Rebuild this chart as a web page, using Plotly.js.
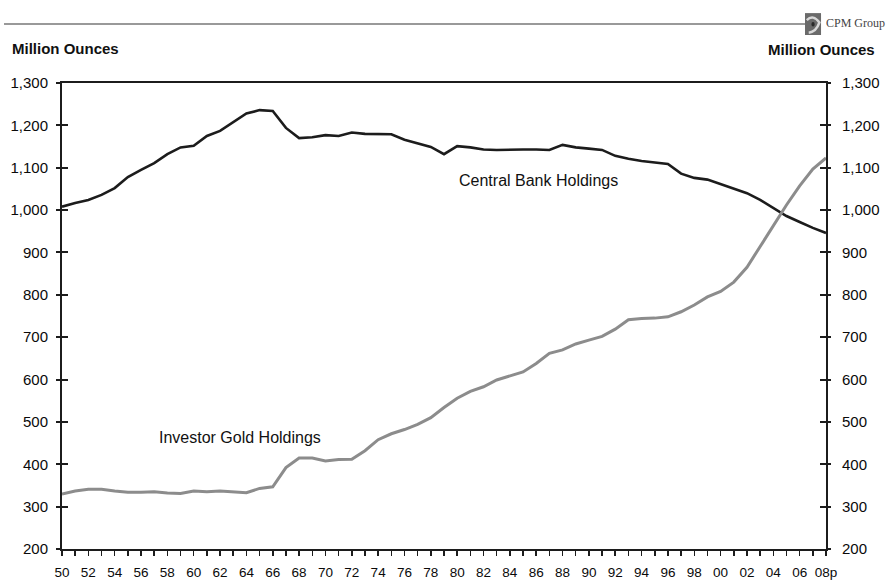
<!DOCTYPE html>
<html>
<head>
<meta charset="utf-8">
<script src="https://cdn.plot.ly/plotly-3.0.1.min.js"></script>
<style>html,body{margin:0;padding:0;background:#fff;}#chart{width:887px;height:580px;}</style>
</head>
<body>
<div id="chart"></div>
<script>
const years = [];
for (let y = 1950; y <= 2008; y++) years.push(y);

const centralBank = [1008,1017,1024,1036,1052,1078,1095,1111,1132,1148,1152,1175,1187,1208,1228,1236,1234,1194,1170,1172,
  1177,1175,1183,1180,1179,1179,1166,1157,1149,1132,1151,1148,1143,1142,1143,1143,1143,1142,1154,1148,
  1145,1142,1128,1121,1116,1112,1109,1086,1076,1072,1061,1050,1040,1024,1005,986,972,958,946];

const investorGold = [330,337,341,341,337,334,334,335,332,331,337,335,337,335,333,343,347,392,415,415,
  408,411,412,432,458,472,482,494,510,534,556,572,583,599,608,618,638,662,670,684,
  693,702,719,741,744,745,748,760,776,795,808,830,865,915,965,1012,1057,1097,1123];

const tickYears = years;
const tickLabels = years.map(y => (y % 2 === 0 ? (y === 2008 ? '08p' : String(y % 100).padStart(2, '0')) : ''));
const yTicks = [200,300,400,500,600,700,800,900,1000,1100,1200,1300];
const yTickText = ['200','300','400','500','600','700','800','900','1,000','1,100','1,200','1,300'];

const labelCentral = 'Central Bank Holdings';
const labelInvestor = 'Investor Gold Holdings';
const unitText = 'Million Ounces';
const brandText = 'CPM Group';

const FONT = 'Arial, "Liberation Sans", Helvetica, sans-serif';
const yTickFont = {family: FONT, size: 15, color: '#0a0a0a'};
const xTickFont = {family: FONT, size: 13.5, color: '#0a0a0a'};

const traces = [
  {x: years, y: centralBank, type: 'scatter', mode: 'lines',
   line: {color: '#1c1c1c', width: 2.6}, hoverinfo: 'skip', showlegend: false},
  {x: years, y: investorGold, type: 'scatter', mode: 'lines',
   line: {color: '#8c8c8c', width: 3}, hoverinfo: 'skip', showlegend: false},
  {x: [years[0]], y: [centralBank[0]], yaxis: 'y2', type: 'scatter', mode: 'lines',
   line: {width: 0}, opacity: 0, hoverinfo: 'skip', showlegend: false},
  {x: [years[0]], y: [centralBank[0]], yaxis: 'y3', type: 'scatter', mode: 'lines',
   line: {width: 0}, opacity: 0, hoverinfo: 'skip', showlegend: false},
  {x: [years[0]], y: [centralBank[0]], yaxis: 'y4', type: 'scatter', mode: 'lines',
   line: {width: 0}, opacity: 0, hoverinfo: 'skip', showlegend: false}
];

const yBase = {range: [200, 1300], tickvals: yTicks, ticktext: yTickText, showgrid: false,
  zeroline: false, linecolor: '#1c1c1c', linewidth: 2, tickcolor: '#1c1c1c', tickwidth: 2,
  tickfont: yTickFont, fixedrange: true};

const layout = {
  width: 887, height: 580,
  margin: {l: 62, r: 61, t: 83, b: 31, pad: 0},
  paper_bgcolor: '#fff', plot_bgcolor: '#fff',
  font: {family: FONT, color: '#111'},
  xaxis: {range: [1950, 2008], tickvals: tickYears, ticktext: tickLabels, ticks: 'outside',
    ticklen: 5, tickwidth: 1.5, tickcolor: '#1c1c1c', showline: true, linecolor: '#1c1c1c',
    linewidth: 2, mirror: true, showgrid: false, zeroline: false, tickfont: xTickFont,
    tickangle: 0, ticklabelstandoff: 5, fixedrange: true},
  yaxis: Object.assign({}, yBase, {side: 'left', showline: true, ticks: 'outside', ticklen: 4,
    ticklabelstandoff: 5}),
  yaxis2: Object.assign({}, yBase, {side: 'right', overlaying: 'y', showline: true,
    ticks: 'outside', ticklen: 3, ticklabelstandoff: 8}),
  yaxis3: Object.assign({}, yBase, {side: 'left', overlaying: 'y', showline: false,
    ticks: 'inside', ticklen: 6, showticklabels: false}),
  yaxis4: Object.assign({}, yBase, {side: 'right', overlaying: 'y', showline: false,
    ticks: 'inside', ticklen: 6, showticklabels: false}),
  shapes: [
    {type: 'line', xref: 'paper', yref: 'paper', x0: -0.0759, x1: 0.9725, y0: 1.1266, y1: 1.1266,
     line: {color: '#777', width: 1.5}},
    {type: 'rect', xref: 'paper', yref: 'paper', x0: 0.9725, x1: 0.9935, y0: 1.103, y1: 1.150,
     fillcolor: '#6a6a6a', line: {width: 0}},
    {type: 'path', xref: 'paper', yref: 'paper',
     path: 'M 0.9749,1.135 Q 0.9830,1.148 0.9914,1.130 Q 0.9874,1.110 0.9774,1.108',
     line: {color: '#d8d8d8', width: 2.5}},
    {type: 'circle', xref: 'paper', yref: 'paper', x0: 0.9809, x1: 0.9852, y0: 1.121, y1: 1.131,
     fillcolor: '#2a2a2a', line: {width: 0}}
  ],
  annotations: [
    {text: unitText, xref: 'paper', yref: 'paper', x: -0.068, y: 1.075, xanchor: 'left',
     yanchor: 'middle', showarrow: false, font: {family: FONT, size: 15, color: '#111', weight: 'bold'}},
    {text: unitText, xref: 'paper', yref: 'paper', x: 1.0668, y: 1.071, xanchor: 'right',
     yanchor: 'middle', showarrow: false, font: {family: FONT, size: 15, color: '#111', weight: 'bold'}},
    {text: brandText, xref: 'paper', yref: 'paper', x: 0.9975, y: 1.1288, xanchor: 'left',
     yanchor: 'middle', showarrow: false,
     font: {family: '"Liberation Serif", "Times New Roman", serif', size: 12, color: '#444'}},
    {text: labelCentral, xref: 'x', yref: 'y', x: 1986.2, y: 1069, xanchor: 'center',
     yanchor: 'middle', showarrow: false, font: {family: FONT, size: 16, color: '#111'}},
    {text: labelInvestor, xref: 'x', yref: 'y', x: 1963.5, y: 464, xanchor: 'center',
     yanchor: 'middle', showarrow: false, font: {family: FONT, size: 16, color: '#111'}}
  ]
};

Plotly.newPlot('chart', traces, layout, {displayModeBar: false, staticPlot: true});
</script>
</body>
</html>
